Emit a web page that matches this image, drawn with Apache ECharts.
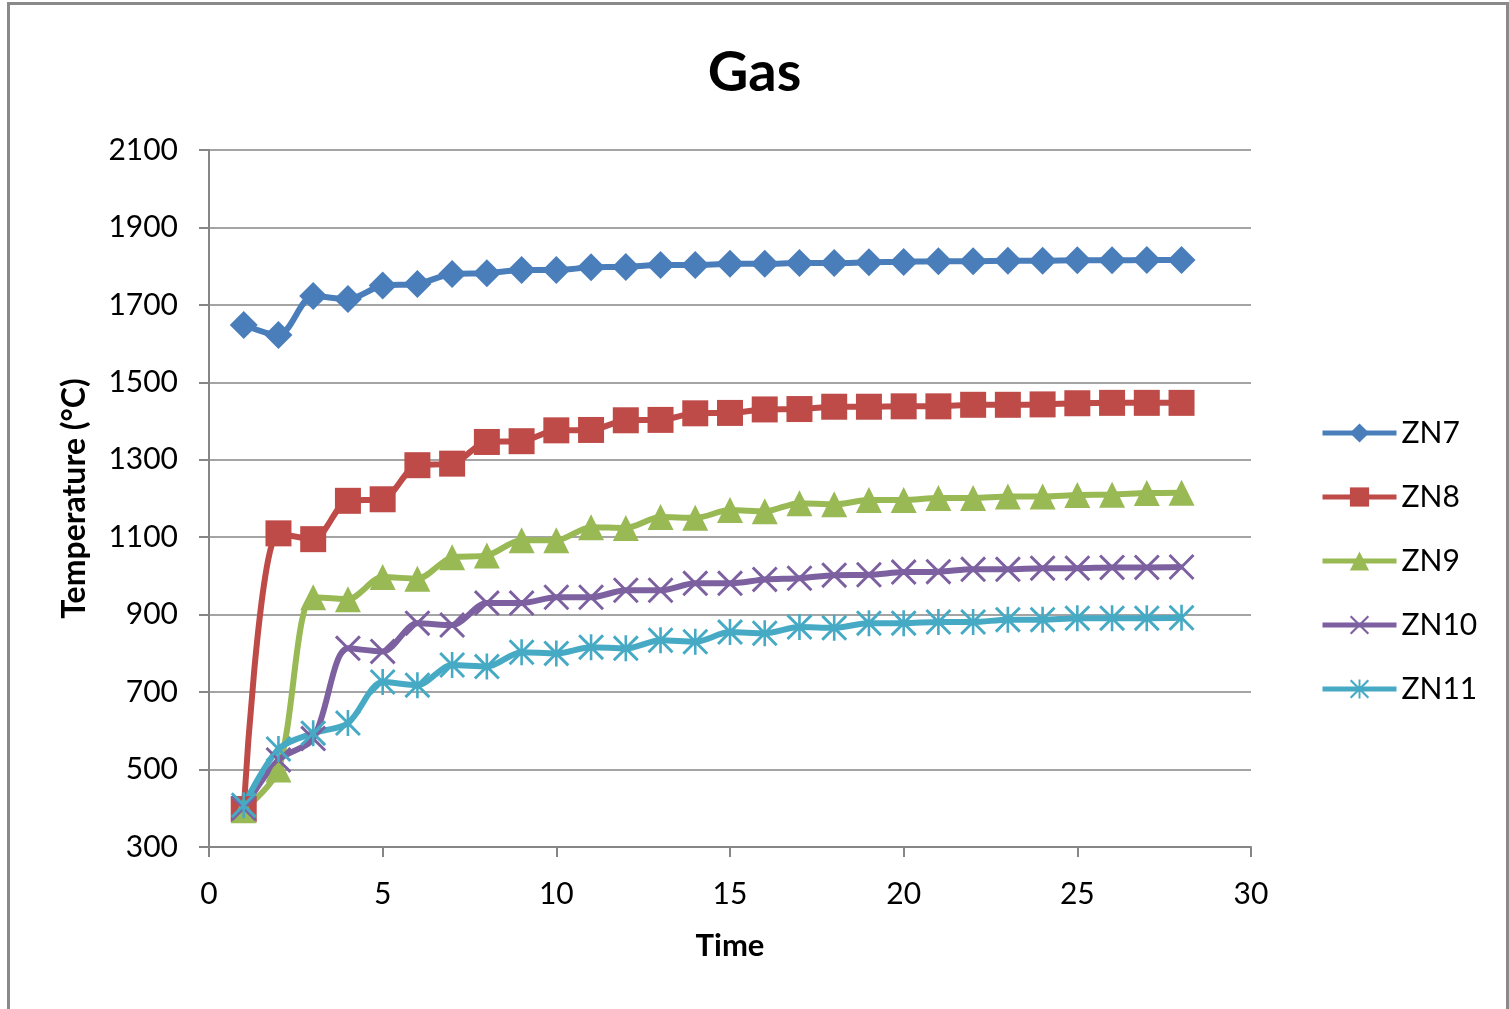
<!DOCTYPE html>
<html>
<head>
<meta charset="utf-8">
<script src="https://cdn.jsdelivr.net/npm/echarts@6/dist/echarts.min.js"></script>
<style>
html,body{margin:0;padding:0;background:#fff;}
#chart{width:1509px;height:1009px;}
</style>
</head>
<body>
<div id="chart"></div>
<script>
const time = [1,2,3,4,5,6,7,8,9,10,11,12,13,14,15,16,17,18,19,20,21,22,23,24,25,26,27,28];
const zn7 = [1648,1622,1723,1715,1750,1754,1780,1782,1790,1790,1797,1798,1803,1803,1806,1806,1808,1808,1810,1811,1813,1813,1814,1814,1815,1815,1816,1816];
const zn8 = [398,1110,1095,1194,1198,1286,1290,1346,1348,1376,1377,1402,1403,1420,1421,1430,1431,1437,1437,1438,1438,1442,1442,1443,1446,1447,1447,1447];
const zn9 = [395,500,945,940,997,993,1048,1053,1092,1092,1126,1124,1152,1150,1170,1167,1188,1185,1196,1196,1201,1201,1205,1205,1209,1210,1214,1215];
const zn10 = [400,525,580,813,805,878,873,930,930,945,945,963,963,981,981,991,994,1002,1003,1010,1011,1017,1017,1020,1020,1022,1022,1023];
const zn11 = [408,553,594,620,726,718,770,766,803,800,816,813,834,830,855,852,868,866,878,878,881,881,887,887,891,891,891,892];
const seriesNames = ['ZN7','ZN8','ZN9','ZN10','ZN11'];

const FONT = 'Lato, "Open Sans", sans-serif';
const X_SYM = 'path://M0,8 L8,0 L50,42 L92,0 L100,8 L58,50 L100,92 L92,100 L50,58 L8,100 L0,92 L42,50 Z';
const AST_SYM = 'path://M0,8 L8,0 L50,42 L92,0 L100,8 L58,50 L100,92 L92,100 L50,58 L8,100 L0,92 L42,50 Z M45,0 L55,0 L55,100 L45,100 Z';

function pairs(ys){ return time.map((t,i)=>[t, ys[i]]); }

const styles = [
  {data: zn7, color:'#4A7EBB', symbol:'diamond', size:28},
  {data: zn8, color:'#BE4B48', symbol:'rect', size:26},
  {data: zn9, color:'#98B954', symbol:'triangle', size:26},
  {data: zn10, color:'#7D60A0', symbol:X_SYM, size:26},
  {data: zn11, color:'#46AAC5', symbol:AST_SYM, size:26}
];

const chart = echarts.init(document.getElementById('chart'), null, {renderer:'canvas'});
chart.setOption({
  animation:false,
  backgroundColor:'#fff',
  textStyle:{fontFamily:FONT},
  title:{
    text:'Gas', left:'center', top:40,
    textStyle:{fontFamily:FONT, fontWeight:'bold', fontSize:56, color:'#000'}
  },
  grid:{left:209, top:150, right:258, bottom:162, containLabel:false},
  legend:{
    orient:'vertical', left:1315, top:413,
    itemWidth:74, itemHeight:24, itemGap:34,
    lineStyle:{width:5},
    textStyle:{fontFamily:FONT, fontSize:30, color:'#000'},
    data: seriesNames
  },
  xAxis:{
    type:'value', min:0, max:30, interval:5,
    name:'Time', nameLocation:'middle', nameGap:83,
    nameTextStyle:{fontFamily:FONT, fontWeight:'bold', fontSize:31, color:'#000'},
    axisLine:{show:true, lineStyle:{color:'#868686', width:2}},
    axisTick:{show:true, inside:false, length:10, lineStyle:{color:'#868686', width:2}},
    axisLabel:{fontFamily:FONT, fontSize:30, color:'#000', margin:32},
    splitLine:{show:false}
  },
  yAxis:{
    type:'value', min:300, max:2100, interval:200,
    name:'Temperature (°C)', nameLocation:'middle', nameGap:118, nameRotate:90,
    nameTextStyle:{fontFamily:FONT, fontWeight:'bold', fontSize:32, color:'#000'},
    axisLine:{show:true, lineStyle:{color:'#868686', width:2}},
    axisTick:{show:true, inside:false, length:10, lineStyle:{color:'#868686', width:2}},
    axisLabel:{fontFamily:FONT, fontSize:30, color:'#000', margin:31, formatter:(v)=>String(v)},
    splitLine:{show:true, lineStyle:{color:'#868686', width:1.5}}
  },
  graphic:[{
    type:'rect', silent:true, z:100,
    shape:{x:8.5, y:3.5, width:1499, height:1010},
    style:{fill:'none', stroke:'#8a8a8a', lineWidth:3}
  }],
  series: styles.map((s,i)=>({
    name: seriesNames[i],
    type:'line',
    data: pairs(s.data),
    smooth:0.3,
    symbol:s.symbol,
    symbolSize:s.size,
    showAllSymbol:true,
    lineStyle:{color:s.color, width:6},
    itemStyle:{color:s.color, borderColor:s.color, borderWidth:0}
  }))
});
</script>
</body>
</html>
